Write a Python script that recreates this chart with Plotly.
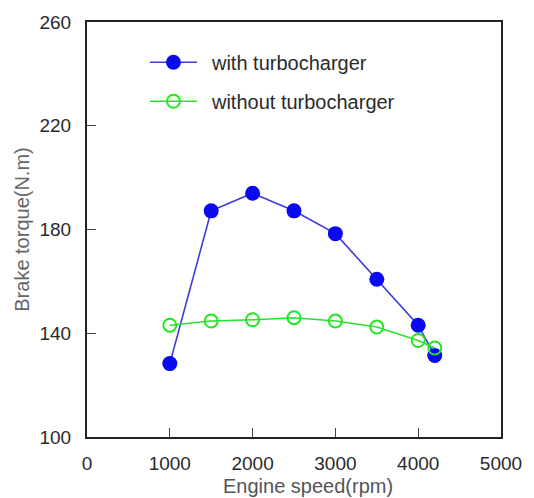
import plotly.graph_objects as go

speed = [1000, 1500, 2000, 2500, 3000, 3500, 4000, 4200]
torque_turbo = [128.3, 187.2, 194.0, 187.2, 178.4, 160.8, 143.1, 131.4]
torque_no_turbo = [143.1, 144.7, 145.2, 146.0, 144.7, 142.4, 137.2, 134.3]
x_ticks = [0, 1000, 2000, 3000, 4000, 5000]
y_ticks = [100, 140, 180, 220, 260]

FONT = "Liberation Sans, Arial, sans-serif"

fig = go.Figure()
fig.add_trace(go.Scatter(
    x=speed, y=torque_turbo, mode="lines+markers", name="\u2002with turbocharger",
    legendgroup="a",
    line=dict(color="#3c3cdc", width=1.6),
    marker=dict(symbol="circle", size=15, color="#0a0af0",
                line=dict(color="#0a0af0", width=0)),
))
fig.add_trace(go.Scatter(
    x=speed, y=torque_no_turbo, mode="lines+markers", name="\u2002without turbocharger",
    legendgroup="b",
    line=dict(color="#2ee02e", width=1.6),
    marker=dict(symbol="circle-open", size=13, color="#22e622",
                line=dict(color="#22e622", width=2)),
))

axis_common = dict(
    showgrid=False, zeroline=False, showline=True, mirror=True,
    linecolor="#222222", linewidth=2, ticks="inside", ticklen=9,
    tickwidth=1.3, tickcolor="#444444",
    tickfont=dict(family=FONT, size=19, color="#2a2a2a"),
)

fig.update_layout(
    width=534, height=498,
    margin=dict(l=87, r=31, t=13, b=61),
    paper_bgcolor="white", plot_bgcolor="white",
    font=dict(family=FONT),
    xaxis=dict(
        range=[0, 5000], tickvals=x_ticks,
        ticklabelstandoff=8,
        **axis_common,
    ),
    yaxis=dict(
        range=[100, 260], tickvals=y_ticks,
        title=dict(text="Brake torque(N.m)", standoff=4,
                   font=dict(family=FONT, size=20, color="#666666")),
        ticklabelstandoff=10,
        **axis_common,
    ),
    legend=dict(
        x=0.14, y=0.95, xanchor="left", yanchor="top",
        bgcolor="rgba(0,0,0,0)", borderwidth=0,
        font=dict(family=FONT, size=20, color="#2a2a2a"),
        tracegroupgap=10, itemwidth=47, traceorder="grouped",
    ),
    showlegend=True,
    annotations=[dict(
        text="Engine speed(rpm)", xref="paper", yref="paper",
        x=0.535, y=-0.118, xanchor="center", yanchor="middle", showarrow=False,
        font=dict(family=FONT, size=20, color="#555555"),
    )],
)

fig.write_html("out.html")
